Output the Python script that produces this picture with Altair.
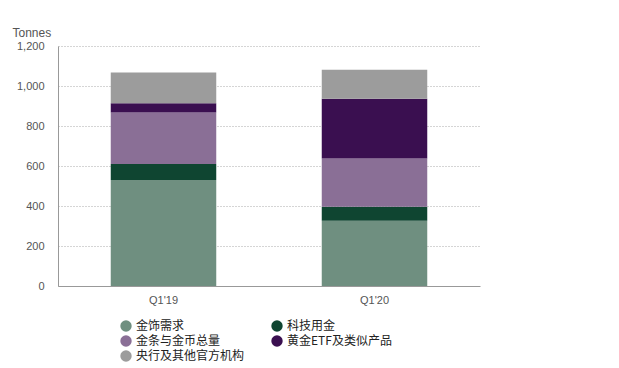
import altair as alt
import pandas as pd

quarters = ["Q1'19", "Q1'20"]
series = ["金饰需求", "科技用金", "金条与金币总量", "黄金ETF及类似产品", "央行及其他官方机构"]
colors = ["#6f8f80", "#0f4531", "#8a6f96", "#3a0f50", "#9c9c9c"]
values_q119 = [530, 80, 257, 47, 153]
values_q120 = [326, 70, 242, 298, 145]

rows = []
for i, s in enumerate(series):
    rows.append({"quarter": quarters[0], "series": s, "value": values_q119[i], "order": i})
    rows.append({"quarter": quarters[1], "series": s, "value": values_q120[i], "order": i})
df = pd.DataFrame(rows)

FONT = "Noto Sans CJK SC"
AXFONT = "Liberation Sans"

chart = alt.Chart(df).mark_bar().encode(
    x=alt.X("quarter:N", sort=quarters,
            scale=alt.Scale(paddingInner=0.5, paddingOuter=0.25),
            axis=alt.Axis(title=None, labelAngle=0, ticks=False, domainColor="#999999",
                          labelColor="#555555", labelFontSize=11, labelFont=AXFONT, labelPadding=8)),
    y=alt.Y("value:Q", stack="zero",
            scale=alt.Scale(domain=[0, 1200]),
            axis=alt.Axis(values=[0, 200, 400, 600, 800, 1000, 1200], format=",.0f",
                          title="Tonnes", titleAngle=0, titleX=-46, titleY=-14,
                          titleAlign="left", titleBaseline="middle",
                          titleFontWeight="normal", titleFontSize=12, titleColor="#555555",
                          titleFont=AXFONT,
                          ticks=False, domainColor="#999999", labelColor="#555555",
                          labelFontSize=11, labelFont=AXFONT, labelPadding=14,
                          grid=True, gridDash=[1, 2], gridColor="#aaaaaa")),
    color=alt.Color("series:N", sort=series,
                    scale=alt.Scale(domain=series, range=colors),
                    legend=alt.Legend(title=None, orient="none", legendX=62, legendY=274,
                                      direction="horizontal",
                                      columns=2, columnPadding=26, rowPadding=3,
                                      symbolType="circle", symbolSize=130,
                                      symbolStrokeWidth=0, labelFontSize=12,
                                      labelFont=FONT, labelColor="#222222",
                                      labelLimit=200, symbolOffset=0)),
    order=alt.Order("order:Q", sort="ascending"),
).properties(
    width=422, height=240,
    padding={"left": 50, "top": 38, "right": 100, "bottom": 80},
    autosize="none",
).configure_view(stroke=None)

chart.save("out.html", embed_options={"renderer": "svg", "actions": False})
